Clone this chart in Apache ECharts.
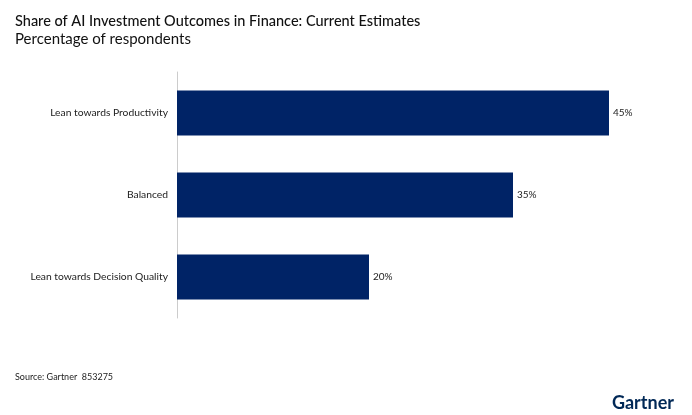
<!DOCTYPE html>
<html><head><meta charset="utf-8">
<script src="https://cdn.jsdelivr.net/npm/echarts@6/dist/echarts.min.js"></script>
<style>html,body{margin:0;padding:0;background:#fff}#c{width:692px;height:415px}</style>
</head><body><div id="c"></div>
<script>
const categories = ['Lean towards Decision Quality', 'Balanced', 'Lean towards Productivity'];
const values = [20, 35, 45];
const chart = echarts.init(document.getElementById('c'));
chart.setOption({
  animation: false,
  textStyle: { fontFamily: 'Lato, "Noto Sans", sans-serif' },
  title: [
    { text: 'Share of AI Investment Outcomes in Finance: Current Estimates', left: 10, top: 9,
      textStyle: { fontSize: 14.5, fontWeight: 500, color: '#111' } },
    { text: 'Percentage of respondents', left: 10, top: 27,
      textStyle: { fontSize: 15, fontWeight: 'normal', color: '#111' } },
    { text: 'Source: Gartner  853275', left: 10, top: 368,
      textStyle: { fontSize: 9, fontWeight: 'normal', color: '#222' } },
    { text: 'Gartner', right: 13, top: 389,
      textStyle: { fontSize: 18, fontWeight: 'bold', color: '#002856' } }
  ],
  grid: { left: 177, top: 72, width: 480, height: 246, containLabel: false },
  xAxis: { type: 'value', min: 0, max: 50, show: false },
  yAxis: { type: 'category', data: categories,
    axisLine: { show: true, lineStyle: { color: '#ccc' } }, axisTick: { show: false },
    axisLabel: { fontSize: 10.3, color: '#222', margin: 9 } },
  series: [{ type: 'bar', data: values, barWidth: '55%',
    itemStyle: { color: '#002366' },
    label: { show: true, position: 'right', formatter: '{c}%', fontSize: 10, color: '#222', distance: 4 } }]
});
</script></body></html>
